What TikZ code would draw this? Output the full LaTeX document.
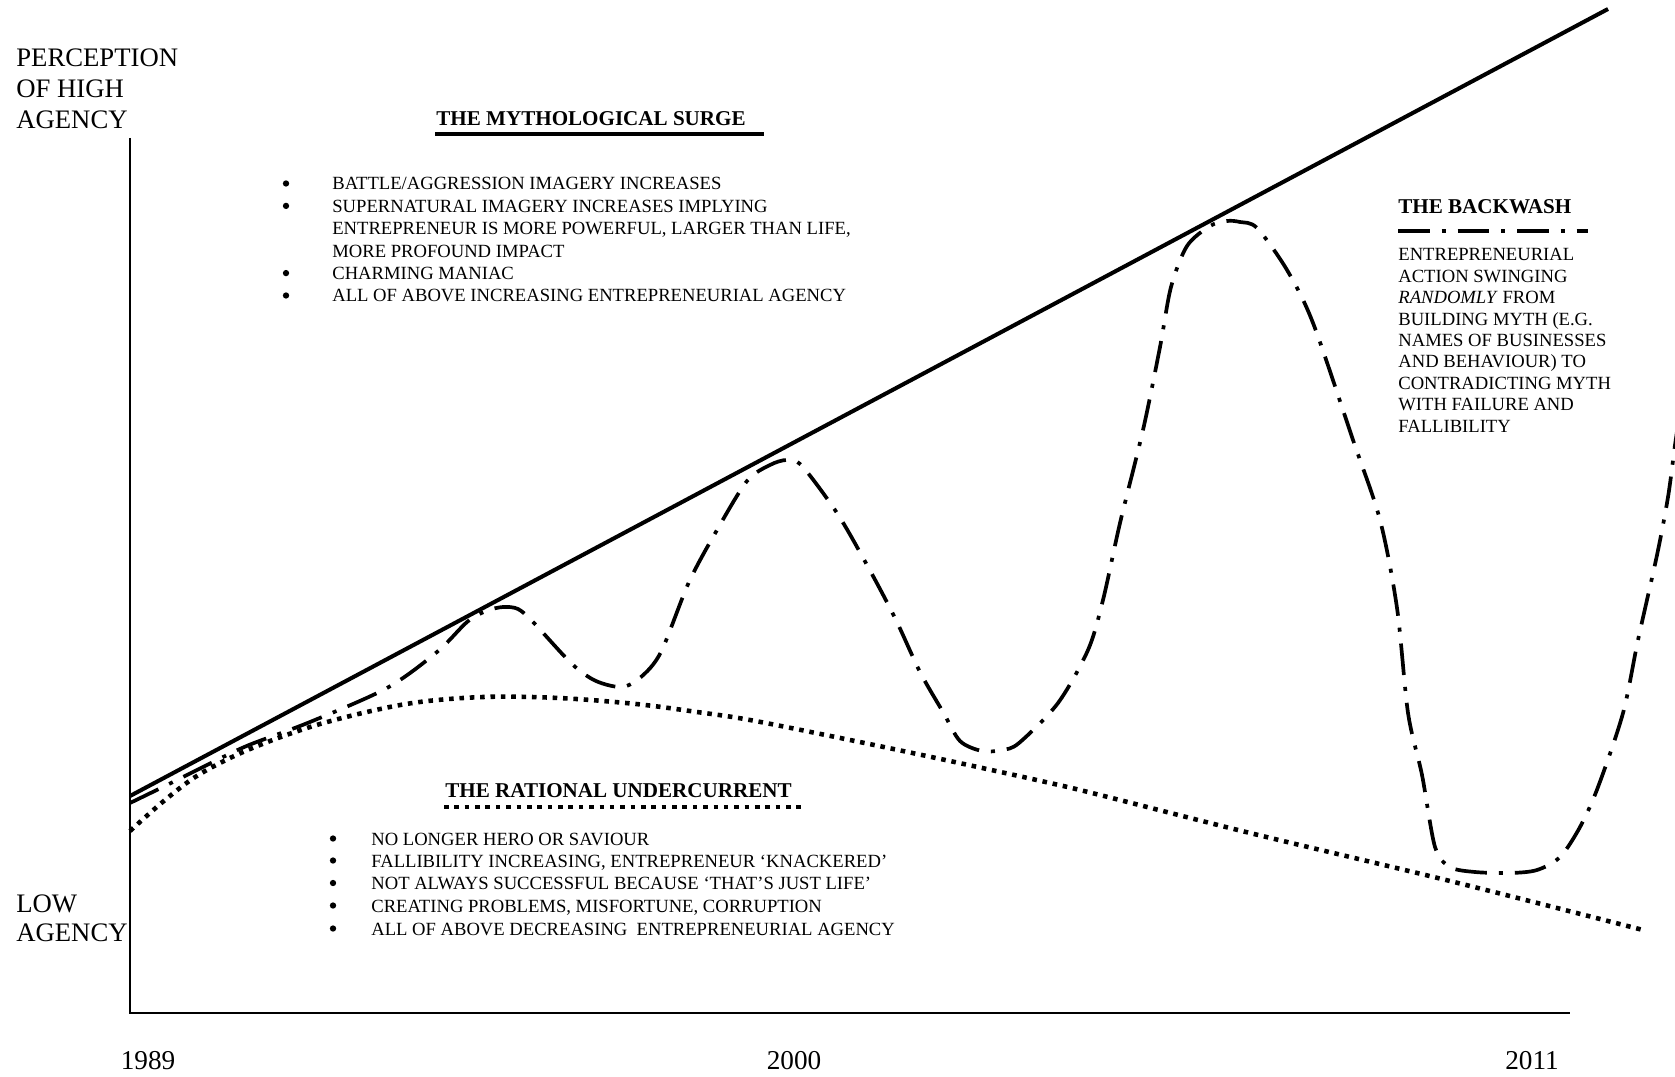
\documentclass[tikz,border=0pt]{standalone}
\usepackage{fontspec}
\setmainfont{Liberation Serif}

\begin{document}
\begin{tikzpicture}[
    x=0.02cm, y=-0.02cm,
    axistext/.style={font=\fontsize{15.2}{18}\selectfont, anchor=base west, inner sep=0},
    year/.style={font=\fontsize{15.5}{18}\selectfont, anchor=base, inner sep=0},
    heading/.style={font=\fontsize{12}{14}\selectfont\bfseries, anchor=base west, inner sep=0},
    body/.style={font=\fontsize{10.6}{12.7}\selectfont, anchor=base west, inner sep=0},
    dot/.style={circle, fill, inner sep=0, minimum size=3.6pt},
    axis/.style={line width=1.2pt},
    surge/.style={line width=2.3pt},
    undercurrent/.style={line width=2.6pt, dash pattern=on 2.6pt off 3.3pt},
    backwash/.style={line width=2.1pt, dash pattern=on 18pt off 6.8pt on 2.3pt off 6.8pt},
  ]
    \useasboundingbox (0,0) rectangle (1675,1077);
    \clip (0,0) rectangle (1675,1077);

    % axes
    \coordinate (ytop) at (130,138);
    \coordinate (origin) at (130,1013);
    \coordinate (xend) at (1570,1013);
    \draw[axis] (ytop) -- (origin) -- (xend);

    \node[axistext] (high1) at (16,67) {PERCEPTION};
    \node[axistext] (high2) at (16,98) {OF HIGH};
    \node[axistext] (high3) at (16,129) {AGENCY};
    \node[axistext] (low1) at (16,912) {LOW};
    \node[axistext] (low2) at (16,941) {AGENCY};

    \node[year] (y1989) at (148,1069) {1989};
    \node[year] (y2000) at (794,1069) {2000};
    \node[year] (y2011) at (1532,1069) {2011};

    % the three trends
    \coordinate (surgestart) at (130,796);
    \coordinate (surgeend) at (1608,9);
    \draw[surge] (surgestart) -- (surgeend);

    \draw[undercurrent] plot[smooth, tension=0.55] coordinates {
      (130,831) (165,800) (200,774) (250,749) (320,724) (406,704) (483,697)
      (559,698) (636,704) (697,712) (750,720) (850,740) (950,761) (1050,783)
      (1100,795) (1250,833) (1450,881) (1643,930)};

    \draw[backwash] plot[smooth, tension=0.5] coordinates {
      (130,803) (169,784) (215,761) (249,745) (310,722) (387,688) (437,652)
      (467,622) (486,611) (503,607) (518,609) (533,622) (572,664) (596,681)
      (622,687) (641,677) (661,652) (689,582) (717,530) (747,481) (770,465)
      (787,460) (802,466) (837,513) (867,565) (895,618) (920,672) (943,712)
      (960,741) (982,751) (1002,750) (1019,743) (1058,703) (1088,650)
      (1103,600) (1120,523) (1143,430) (1160,347) (1171,287) (1187,246)
      (1210,226) (1227,221) (1240,222) (1257,228) (1287,270) (1313,323)
      (1353,440) (1380,520) (1397,608) (1408,713) (1422,775) (1435,847)
      (1450,867) (1475,872) (1510,873) (1537,870) (1560,857) (1580,827)
      (1598,787) (1623,713) (1638,640) (1657,555) (1668,497) (1675,445)
      (1681,405)};

    % the mythological surge
    \node[heading] (surgetitle) at (436,126) {THE MYTHOLOGICAL SURGE};
    \coordinate (surgeul1) at (435,134);
    \coordinate (surgeul2) at (764,134);
    \draw[surge, line width=2.6pt] (surgeul1) -- (surgeul2);

    \node[dot] (sb1) at (286,183.5) {};
    \node[body] (s1) at (332,190) {BATTLE/AGGRESSION IMAGERY INCREASES};
    \node[dot] (sb2) at (286,205.9) {};
    \node[body] (s2) at (332,212.4) {SUPERNATURAL IMAGERY INCREASES IMPLYING};
    \node[body] (s3) at (332,234.8) {ENTREPRENEUR IS MORE POWERFUL, LARGER THAN LIFE,};
    \node[body] (s4) at (332,257.2) {MORE PROFOUND IMPACT};
    \node[dot] (sb5) at (286,273.1) {};
    \node[body] (s5) at (332,279.6) {CHARMING MANIAC};
    \node[dot] (sb6) at (286,295.5) {};
    \node[body] (s6) at (332,302) {ALL OF ABOVE INCREASING ENTREPRENEURIAL AGENCY};

    % the backwash
    \node[heading] (washtitle) at (1398,214) {THE BACKWASH};
    \coordinate (washkey1) at (1398,231);
    \coordinate (washkey2) at (1588,231);
    \draw[backwash, line width=2.4pt] (washkey1) -- (washkey2);

    \node[body] (w1) at (1398,261) {ENTREPRENEURIAL};
    \node[body] (w2) at (1398,282.4) {ACTION SWINGING};
    \node[body] (w3) at (1398,303.8) {\textit{RANDOMLY} FROM};
    \node[body] (w4) at (1398,325.2) {BUILDING MYTH (E.G.};
    \node[body] (w5) at (1398,346.6) {NAMES OF BUSINESSES};
    \node[body] (w6) at (1398,368) {AND BEHAVIOUR) TO};
    \node[body] (w7) at (1398,389.4) {CONTRADICTING MYTH};
    \node[body] (w8) at (1398,410.8) {WITH FAILURE AND};
    \node[body] (w9) at (1398,432.2) {FALLIBILITY};

    % the rational undercurrent
    \node[heading] (ratiotitle) at (445,797) {THE RATIONAL UNDERCURRENT};
    \coordinate (ratioul1) at (444,807);
    \coordinate (ratioul2) at (802,807);
    \draw[undercurrent] (ratioul1) -- (ratioul2);

    \node[dot] (rb1) at (333,838.5) {};
    \node[body] (r1) at (371,845) {NO LONGER HERO OR SAVIOUR};
    \node[dot] (rb2) at (333,860.5) {};
    \node[body] (r2) at (371,867) {FALLIBILITY INCREASING, ENTREPRENEUR `KNACKERED'};
    \node[dot] (rb3) at (333,883) {};
    \node[body] (r3) at (371,889.5) {NOT ALWAYS SUCCESSFUL BECAUSE `THAT'S JUST LIFE'};
    \node[dot] (rb4) at (333,905.5) {};
    \node[body] (r4) at (371,912) {CREATING PROBLEMS, MISFORTUNE, CORRUPTION};
    \node[dot] (rb5) at (333,928.5) {};
    \node[body] (r5) at (371,935) {ALL OF ABOVE DECREASING \ ENTREPRENEURIAL AGENCY};
  \end{tikzpicture}
\end{document}
